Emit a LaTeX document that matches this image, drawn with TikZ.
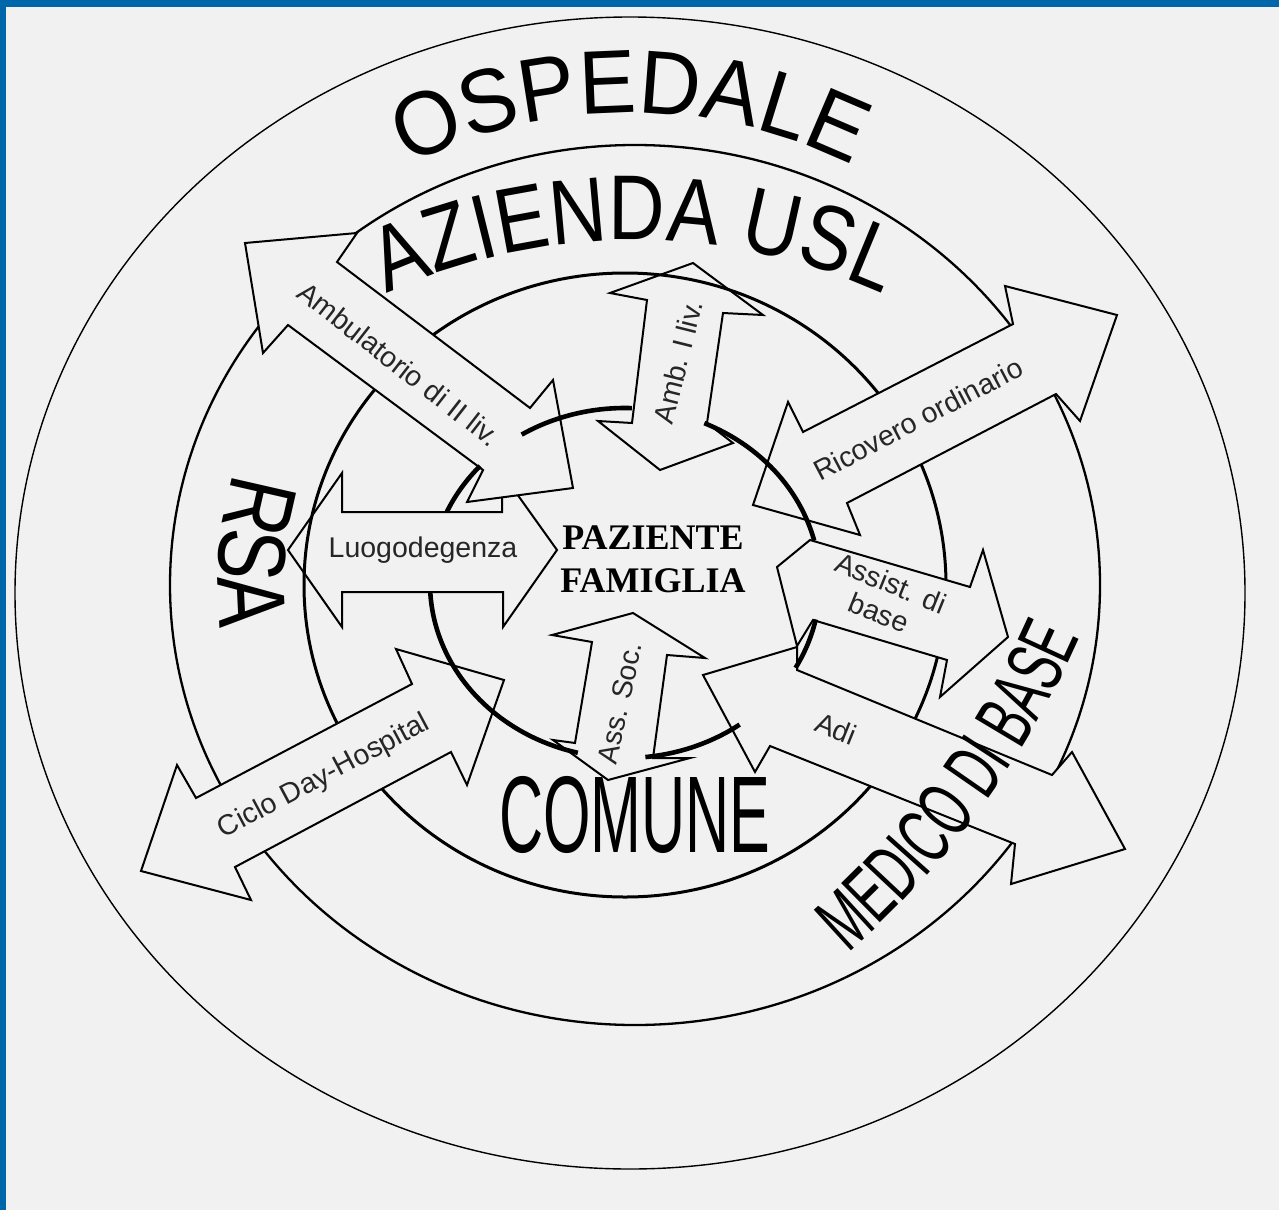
\documentclass[tikz,border=0pt]{standalone}
\usepackage{fontspec}
\setmainfont{Liberation Sans}
\newfontfamily\lblfont{Liberation Sans}
\newfontfamily\pazfont{Liberation Serif}
\newfontfamily\ospfont[FakeStretch=0.95]{Liberation Sans}
\newfontfamily\azfont[FakeStretch=0.85]{Liberation Sans}
\newfontfamily\medfont[FakeStretch=0.6]{Liberation Sans}
\newfontfamily\rsafont[FakeStretch=0.8]{Liberation Sans}
\newfontfamily\comfont[FakeStretch=0.56]{Liberation Sans}
\usetikzlibrary{decorations.text}
\definecolor{paper}{HTML}{F1F1F1}
\definecolor{frameblue}{HTML}{0066AA}
\begin{document}
\begin{tikzpicture}[x=1pt,y=1pt,
  arr/.style={draw=black, line width=2pt, fill=paper, line join=miter},
  lbl/.style={font=\lblfont\fontsize{28.5}{32}\selectfont, text=black!85, inner sep=0pt},
  ringA/.style={line width=1.4pt},
  ringB/.style={line width=2.3pt},
  ringC/.style={line width=3pt},
  ringD/.style={line width=4.6pt}]
\useasboundingbox (0,0) rectangle (1279,-1210);
\fill[paper] (0,0) rectangle (1279,-1210);
\fill[frameblue] (0,0) rectangle (1279,-7);
\fill[frameblue] (0,0) rectangle (6,-1210);

% outer and middle rings
\draw[ringA] (630,-593) ellipse [x radius=615, y radius=576];
\draw[ringB] (635,-585) ellipse [x radius=465, y radius=440];

% arrows lying under the third ring
\draw[arr] (693,-263) -- (763,-315) -- (723,-313) -- (707,-423) -- (733,-443) -- (660,-470) -- (598,-421) -- (632,-423) -- (647,-300) -- (610,-293) -- cycle; % Amb. I liv.
\draw[arr] (633,-613) -- (705,-658) -- (667,-655) -- (653,-758) -- (690,-758) -- (608,-780) -- (553,-740) -- (575,-743) -- (592,-642) -- (552,-635) -- cycle; % Ass. Soc.
\draw[arr] (288,-550) -- (342,-473) -- (342,-512) -- (502,-512) -- (502,-473) -- (557,-550) -- (503,-627) -- (503,-592) -- (342,-592) -- (342,-627) -- cycle; % Luogodegenza

% third ring
\draw[ringC] (625,-585) ellipse [x radius=321, y radius=312];

% arrows over the third ring
\draw[arr] (245,-243) -- (357,-233) -- (337,-262) -- (530,-408) -- (553,-380) -- (573,-488) -- (467,-502) -- (483,-470) -- (288,-325) -- (263,-353) -- cycle; % Ambulatorio II
\draw[arr] (803,-432) -- (1013,-324) -- (1005,-286) -- (1117,-315) -- (1080,-421) -- (1056,-394) -- (847,-503) -- (860,-535) -- (753,-505) -- (788,-402) -- cycle; % Ricovero
\draw[arr] (141,-871) -- (177,-765) -- (196,-798) -- (412,-684) -- (396,-649) -- (504,-680) -- (467,-785) -- (451,-752) -- (235,-867) -- (251,-900) -- cycle; % Ciclo DH
\draw[arr] (810,-540) -- (970,-587) -- (983,-550) -- (1008,-637) -- (940,-697) -- (947,-660) -- (813,-620) -- (797,-646) -- (777,-567) -- cycle; % Assist. di base
\draw[arr] (703,-675) -- (797,-647) -- (797,-670) -- (1052,-775) -- (1072,-752) -- (1125,-849) -- (1011,-884) -- (1015,-844) -- (770,-746) -- (755,-772) -- cycle; % Adi

% inner thick ring, visible pieces
\begin{scope}[shift={(625,-583)}]
\draw[ringD] (88:195 and 175) arc[start angle=88, end angle=122, x radius=195, y radius=175];
\draw[ringD] (14:195 and 175) arc[start angle=14, end angle=66, x radius=195, y radius=175];
\draw[ringD] (-29:195 and 175) arc[start angle=-29, end angle=-12, x radius=195, y radius=175];
\draw[ringD] (-84:195 and 175) arc[start angle=-84, end angle=-54, x radius=195, y radius=175];
\draw[ringD] (183:195 and 175) arc[start angle=183, end angle=256, x radius=195, y radius=175];
\draw[ringD] (138:195 and 175) arc[start angle=138, end angle=156, x radius=195, y radius=175];
\end{scope}

% ring titles
\path[shift={(630,-593)}, decorate, decoration={text along path, text align=center,
  text={|\ospfont\fontsize{90}{90}\selectfont|OSPEDALE}}]
  (130:490 and 480) arc[start angle=130, end angle=50, x radius=490, y radius=480];
\path[shift={(635,-840)}, decorate, decoration={text along path, text align=center,
  text={|\azfont\fontsize{92}{92}\selectfont|AZIENDA USL}}]
  (125:600 and 600) arc[start angle=125, end angle=55, x radius=600, y radius=600];
\path[shift={(256,-275)}, decorate, decoration={text along path, text align=center,
  text={|\medfont\fontsize{80}{80}\selectfont|MEDICO DI BASE}}]
  (-54:900 and 900) arc[start angle=-54, end angle=-18.6, x radius=900, y radius=900];
\path[shift={(635,-585)}, decorate, decoration={text along path, text align=center,
  text={|\rsafont\fontsize{96}{96}\selectfont|RSA}}]
  (155:417 and 400) arc[start angle=155, end angle=195, x radius=417, y radius=400];
\node[font=\comfont\fontsize{109}{109}\selectfont, anchor=base, inner sep=0pt] (comune) at (635,-852) {COMUNE};

% centre
\node[align=center, font=\pazfont\bfseries\fontsize{36}{43}\selectfont, inner sep=0pt] (paziente) at (653,-559) {PAZIENTE\\FAMIGLIA};

% arrow labels
\node[lbl, rotate=-38] (ambII) at (399,-364) {Ambulatorio di II liv.};
\node[lbl, rotate=76] (ambI) at (678,-362) {Amb. I liv.};
\node[lbl, rotate=27.6] (ricovero) at (918,-419) {Ricovero ordinario};
\node[lbl] (luogo) at (423,-550) {Luogodegenza};
\node[lbl, rotate=-22, align=center] (assist) at (885,-598) {Assist. di\\base};
\node[lbl, rotate=28] (ciclo) at (324,-777) {Ciclo Day-Hospital};
\node[lbl, rotate=78] (asssoc) at (620,-703) {Ass. Soc.};
\node[lbl, rotate=-22] (adi) at (836,-729) {Adi};
\end{tikzpicture}
\end{document}
